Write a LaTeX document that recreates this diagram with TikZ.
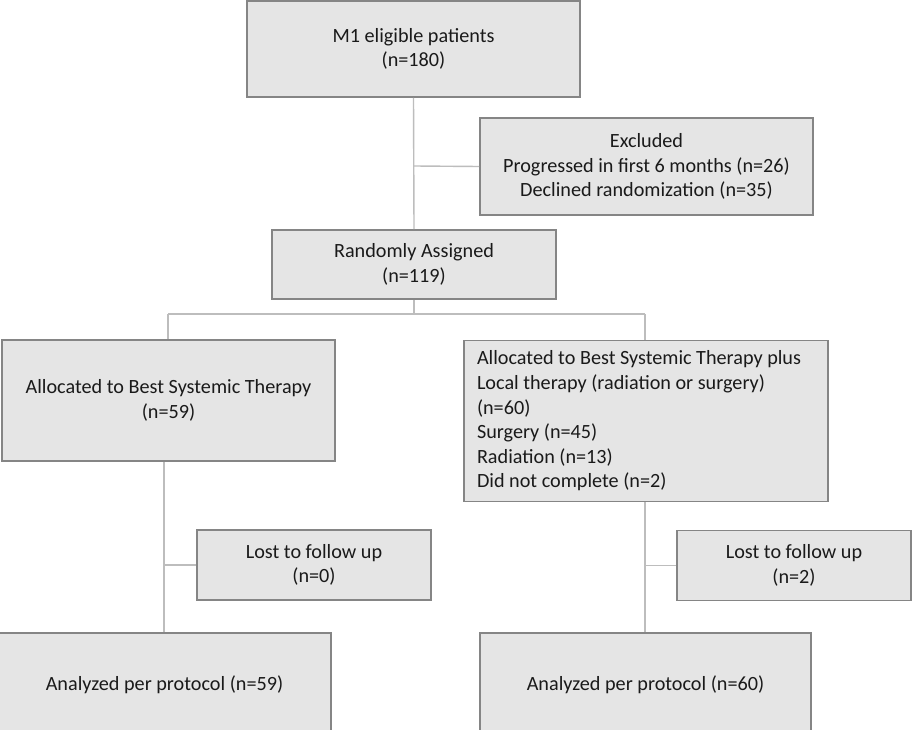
\documentclass[tikz,border=0pt]{standalone}
\usepackage{fontspec}
\setmainfont{Carlito}
\definecolor{boxfill}{HTML}{E5E5E5}
\definecolor{boxborder}{HTML}{858585}
\definecolor{linecol}{HTML}{BDBDBD}
\definecolor{textcol}{HTML}{1A1A1A}
\begin{document}
\begin{tikzpicture}[x=1pt,y=-1pt,
  box/.style={draw=boxborder, fill=boxfill, line width=1.6pt, text=textcol,
    align=center, inner sep=0pt, font=\fontsize{20.2}{24.6}\selectfont},
  conn/.style={draw=linecol, line width=1.4pt}]
\useasboundingbox (0,0) rectangle (912,730);
\clip (0,0) rectangle (912,730);
\fill[white] (0,0) rectangle (912,730);

\node[box, minimum width=333pt, minimum height=96pt] (top) at (413.5,49) {M1 eligible patients\\(n=180)};
\node[box, minimum width=333pt, minimum height=97pt] (excl) at (646.5,166.5) {Excluded\\Progressed in first 6 months (n=26)\\Declined randomization (n=35)};
\node[box, minimum width=284pt, minimum height=69pt] (rand) at (414,264.5) {Randomly Assigned\\(n=119)};
\node[box, minimum width=333pt, minimum height=121pt] (allocL) at (168.5,400.5) {Allocated to Best Systemic Therapy\\(n=59)};
\node[box, minimum width=364pt, minimum height=161pt, text width=338pt, align=flush left] (allocR) at (646,421) {Allocated to Best Systemic Therapy plus\\Local therapy (radiation or surgery)\\(n=60)\\Surgery (n=45)\\Radiation (n=13)\\Did not complete (n=2)};
\node[box, minimum width=234pt, minimum height=70pt] (lostL) at (314,565) {Lost to follow up\\(n=0)};
\node[box, minimum width=234pt, minimum height=70pt] (lostR) at (794,565.5) {Lost to follow up\\(n=2)};
\node[box, minimum width=333pt, minimum height=104pt] (botL) at (164.5,685) {Analyzed per protocol (n=59)};
\node[box, minimum width=331pt, minimum height=104pt] (botR) at (645.5,685) {Analyzed per protocol (n=60)};

\coordinate (j1) at (414,166);
\coordinate (j2) at (414,314);
\coordinate (j2L) at (168,314);
\coordinate (j2R) at (645,314);
\coordinate (j3L) at (164,565);
\coordinate (j3R) at (645,565.5);

\path[conn] (top.south) -- (rand.north);
\path[conn] (j1) -- (excl.west);
\path[conn] (rand.south) -- (j2);
\path[conn] (j2L) -- (j2R);
\path[conn] (j2L) -- (allocL.north -| j2L);
\path[conn] (j2R) -- (allocR.north -| j2R);
\path[conn] (allocL.south -| j3L) -- (botL.north -| j3L);
\path[conn] (j3L) -- (lostL.west);
\path[conn] (allocR.south -| j3R) -- (botR.north -| j3R);
\path[conn] (j3R) -- (lostR.west);
\end{tikzpicture}
\end{document}
